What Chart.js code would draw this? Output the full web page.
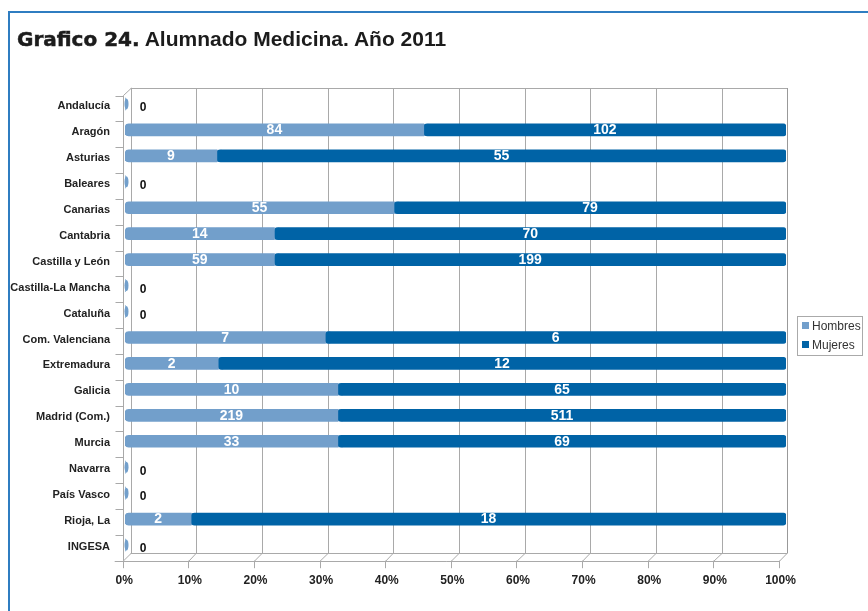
<!DOCTYPE html>
<html>
  <head>
    <meta charset="utf-8" />
    <script src="https://cdn.jsdelivr.net/npm/chart.js"></script>
    <title>Alumnado Medicina 2011</title>
    <style>
      body {
        margin: 0;
        background: #fff;
      }
      #hoja {
        position: relative;
        width: 868px;
        height: 611px;
        overflow: hidden;
        background: #fff;
      }
      #grafico {
        position: absolute;
        left: 0;
        top: 0;
      }
      #tapa {
        position: absolute;
        left: 0;
        top: 0;
        width: 8px;
        height: 611px;
        background: #fff;
      }
      #marco {
        position: absolute;
        left: 8px;
        top: 11px;
        right: 0;
        bottom: 0;
        border-top: 2px solid #2f7dc1;
        border-left: 2px solid #2f7dc1;
      }
      #titulo {
        position: absolute;
        left: 17px;
        top: 27px;
        line-height: 24px;
        font: bold 21px "Liberation Sans", Arial, sans-serif;
        color: #1c1c1c;
        white-space: nowrap;
      }
      #titulo .num {
        font-family: "DejaVu Sans", sans-serif;
        font-size: 20px;
        font-weight: bold;
        -webkit-text-stroke: 0.5px #1c1c1c;
      }
      #leyenda {
        position: absolute;
        left: 797px;
        top: 316px;
        width: 64px;
        height: 38px;
        border: 1px solid #aaa;
        background: #fff;
        font: 12px "Liberation Sans", Arial, sans-serif;
        color: #333;
      }
      #leyenda .cuadro {
        position: absolute;
        left: 4px;
        width: 7px;
        height: 7px;
      }
      #leyenda .texto {
        position: absolute;
        left: 14px;
        line-height: 14px;
      }
    </style>
  </head>

  <body>
    <div id="hoja">
      <canvas id="grafico" width="868" height="611"></canvas>
      <div id="tapa"></div>
      <div id="marco"></div>
      <div id="titulo"><span class="num">Grafico 24.</span> Alumnado Medicina. Año 2011</div>
      <div id="leyenda">
        <span class="cuadro" id="c-hombres" style="top: 5px"></span>
        <span class="texto" style="top: 2px">Hombres</span>
        <span class="cuadro" id="c-mujeres" style="top: 24px"></span>
        <span class="texto" style="top: 21px">Mujeres</span>
      </div>
    </div>

    <script>
      // datos
      const regiones = [
        "Andalucía", "Aragón", "Asturias", "Baleares", "Canarias", "Cantabria",
        "Castilla y León", "Castilla-La Mancha", "Cataluña", "Com. Valenciana",
        "Extremadura", "Galicia", "Madrid (Com.)", "Murcia", "Navarra",
        "País Vasco", "Rioja, La", "INGESA"
      ];
      // etiquetas (numero de alumnos)
      const hombres = [0, 84, 9, 0, 55, 14, 59, 0, 0, 7, 2, 10, 219, 33, 0, 0, 2, 0];
      const mujeres = [0, 102, 55, 0, 79, 70, 199, 0, 0, 6, 12, 65, 511, 69, 0, 0, 18, 0];
      // largo de las barras (%)
      const hombresPct = [0, 45.2, 13.9, 0, 40.7, 22.6, 22.6, 0, 0, 30.3, 14.1, 32.2, 32.2, 32.2, 0, 0, 10, 0];
      const mujeresPct = [0, 54.8, 86.1, 0, 59.3, 77.4, 77.4, 0, 0, 69.7, 85.9, 67.8, 67.8, 67.8, 0, 0, 90, 0];
      const ticksX = [0, 10, 20, 30, 40, 50, 60, 70, 80, 90, 100];

      const AZUL_CLARO = "#729fcb";
      const AZUL_OSCURO = "#0063a6";
      const GRIS = "#a9a9a9";

      document.getElementById("c-hombres").style.background = AZUL_CLARO;
      document.getElementById("c-mujeres").style.background = AZUL_OSCURO;

      /* plugin que dibuja el fondo en "3D", las etiquetas y los ceros */
      const marco = {
        id: "marco",
        beforeDatasetsDraw(chart) {
          const ctx = chart.ctx;
          const { left, right, top, bottom } = chart.chartArea;
          const x = chart.scales.x;
          // plano del fondo y plano del frente
          const bx0 = left + 5.7, bx1 = right + 1.3, bTop = top - 3, bBot = bottom - 5;
          const fx0 = left - 2.3, fx1 = right - 7, fTop = top + 4.5, fBot = bottom + 2.7;
          const frac = (v) => (x.getPixelForValue(v) - left) / (right - left);
          const backX = (v) => bx0 + frac(v) * (bx1 - bx0);
          const frontX = (v) => fx0 + frac(v) * (fx1 - fx0);

          ctx.save();
          ctx.lineWidth = 1;
          ctx.strokeStyle = GRIS;
          ctx.beginPath();
          // lineas verticales del fondo
          ticksX.forEach((v) => {
            const bx = Math.round(backX(v)) + 0.5;
            ctx.moveTo(bx, bTop);
            ctx.lineTo(bx, bBot);
            // piso
            ctx.moveTo(bx, bBot);
            ctx.lineTo(frontX(v) + 0.5, fBot + 0.5);
            const fx = Math.round(frontX(v)) + 0.5;
            ctx.moveTo(fx, fBot);
            ctx.lineTo(fx, fBot + 7.5);
          });
          ctx.moveTo(bx0, Math.round(bTop) + 0.5);
          ctx.lineTo(bx1, Math.round(bTop) + 0.5);
          ctx.moveTo(bx0, Math.round(bBot) + 0.5);
          ctx.lineTo(bx1, Math.round(bBot) + 0.5);
          ctx.moveTo(fx0 - 8, Math.round(fBot) + 0.5);
          ctx.lineTo(fx1, Math.round(fBot) + 0.5);
          // pared izquierda
          const lx = Math.round(fx0) + 0.5;
          ctx.moveTo(lx, fTop);
          ctx.lineTo(lx, fBot);
          ctx.moveTo(lx, fTop);
          ctx.lineTo(Math.round(bx0) + 0.5, bTop);
          const n = regiones.length;
          for (let k = 0; k <= n; k++) {
            const y = Math.round(fTop + (k * (fBot - fTop)) / n) + 0.5;
            ctx.moveTo(lx - 8, y);
            ctx.lineTo(lx, y);
          }
          ctx.stroke();

          // borde derecho mas oscuro
          ctx.strokeStyle = "#999";
          ctx.beginPath();
          ctx.moveTo(Math.round(bx1) + 0.5, bTop);
          ctx.lineTo(Math.round(bx1) + 0.5, bBot);
          ctx.stroke();

          // etiquetas del eje x
          ctx.fillStyle = "#222";
          ctx.font = "bold 12px 'Liberation Sans', Arial, sans-serif";
          ctx.textAlign = "center";
          ctx.textBaseline = "middle";
          ticksX.forEach((v) => ctx.fillText(v + "%", frontX(v) + 1.5, 581));

          // relleno claro bajo la punta redonda de las mujeres
          const m1 = chart.getDatasetMeta(1);
          ctx.fillStyle = AZUL_CLARO;
          m1.data.forEach((bar, i) => {
            if (mujeresPct[i] > 0 && hombresPct[i] > 0) {
              ctx.fillRect(bar.base, bar.y - bar.height / 2, 5, bar.height);
            }
          });
          ctx.restore();
        },
        afterDatasetsDraw(chart) {
          const ctx = chart.ctx;
          const m0 = chart.getDatasetMeta(0);
          const m1 = chart.getDatasetMeta(1);
          ctx.save();
          ctx.textAlign = "center";
          ctx.textBaseline = "middle";
          m0.data.forEach((bar, i) => {
            if (hombresPct[i] === 0) {
              // barra vacia: solo la tapa y el 0
              ctx.fillStyle = AZUL_CLARO;
              ctx.beginPath();
              ctx.ellipse(bar.base + 1.5, bar.y, 2, 5.5, 0, 0, Math.PI * 2);
              ctx.fill();
              ctx.fillStyle = "#111";
              ctx.font = "bold 12px 'Liberation Sans', Arial, sans-serif";
              ctx.fillText("0", bar.base + 18, bar.y + 4);
              return;
            }
            ctx.fillStyle = "#fff";
            ctx.font = "bold 14px 'Liberation Sans', Arial, sans-serif";
            ctx.fillText(String(hombres[i]), (bar.base + bar.x) / 2, bar.y + 0.5);
            const b1 = m1.data[i];
            ctx.fillText(String(mujeres[i]), (b1.base + b1.x) / 2, b1.y + 0.5);
          });
          ctx.restore();
        }
      };

      const ctx = document.getElementById("grafico").getContext("2d");
      new Chart(ctx, {
        type: "bar",
        data: {
          labels: regiones,
          datasets: [
            {
              label: "Hombres",
              data: hombresPct,
              backgroundColor: AZUL_CLARO,
              borderWidth: 0,
              borderSkipped: false,
              borderRadius: { topLeft: 4, bottomLeft: 4, topRight: 0, bottomRight: 0 },
              barThickness: 12
            },
            {
              label: "Mujeres",
              data: mujeresPct,
              backgroundColor: AZUL_OSCURO,
              borderWidth: 0,
              borderSkipped: false,
              borderRadius: { topLeft: 4, bottomLeft: 4, topRight: 3, bottomRight: 3 },
              barThickness: 12
            }
          ]
        },
        options: {
          indexAxis: "y",
          responsive: false,
          animation: false,
          layout: { padding: { top: 91, bottom: 53, right: 82, left: 0 } },
          plugins: {
            legend: { display: false },
            title: { display: false },
            tooltip: { enabled: false }
          },
          scales: {
            x: { stacked: true, min: 0, max: 100, display: false },
            y: {
              stacked: true,
              afterFit(scale) {
                scale.width = 125;
              },
              grid: { display: false, drawTicks: false },
              border: { display: false },
              ticks: {
                padding: 15,
                labelOffset: 2,
                autoSkip: false,
                color: "#222",
                font: { family: "'Liberation Sans', Arial, sans-serif", size: 11, weight: "bold" }
              }
            }
          }
        },
        plugins: [marco]
      });
    </script>
  </body>
</html>
